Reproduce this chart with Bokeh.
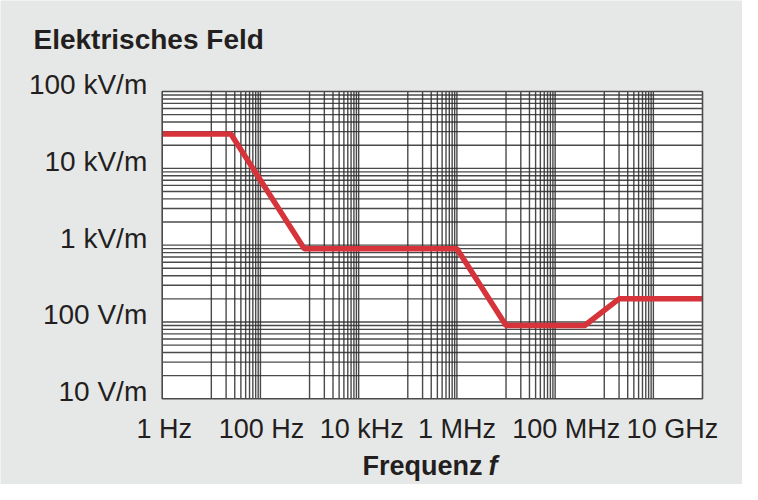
from bokeh.plotting import figure
from bokeh.models import Range1d
from bokeh.core.properties import value
from bokeh.embed import file_html
from bokeh.resources import INLINE
import math

# ---- data ----
freq_hz = [1, 25, 780, 1e6, 1e7, 4e8, 2e9, 1e11]
field_vm = [28000, 28000, 900, 900, 90, 90, 200, 200]

x_tick_values = [1, 1e2, 1e4, 1e6, 1e8, 1e10]
x_tick_labels = ["1 Hz", "100 Hz", "10 kHz", "1 MHz", "100 MHz", "10 GHz"]
y_tick_values = [10, 100, 1e3, 1e4, 1e5]
y_tick_labels = ["10 V/m", "100 V/m", "1 kV/m", "10 kV/m", "100 kV/m"]

title_text = "Elektrisches Feld"
x_title_text = "Frequenz"
x_title_symbol = "f"

# ---- layout / style ----
FONT = "Liberation Sans"
TXT = "#231f20"
BG = "#e6e7e7"
RED = "#d6333a"
GRID = "#2a2a2a"

W, H = 742, 484
# chart area in pixels (from top-left of figure)
X_LEFT_PX, X_RIGHT_PX = 161.7, 702.0
Y_TOP_PX, Y_BOT_PX = 91.0, 398.3
X_MIN, X_MAX = 1.0, 1e11
Y_MIN, Y_MAX = 10.0, 1e5

xdec = (X_RIGHT_PX - X_LEFT_PX) / (math.log10(X_MAX) - math.log10(X_MIN))
ydec = (Y_BOT_PX - Y_TOP_PX) / (math.log10(Y_MAX) - math.log10(Y_MIN))


def px_x(px):
    return 10 ** (math.log10(X_MIN) + (px - X_LEFT_PX) / xdec)


def px_y(py):
    return 10 ** (math.log10(Y_MIN) + (Y_BOT_PX - py) / ydec)


p = figure(width=W, height=H, x_axis_type="log", y_axis_type="log",
           x_range=Range1d(px_x(0), px_x(W)), y_range=Range1d(px_y(H), px_y(0)),
           output_backend="svg", toolbar_location=None,
           min_border=0, min_border_left=0, min_border_right=0,
           min_border_top=0, min_border_bottom=0)
p.xaxis.visible = False
p.yaxis.visible = False
p.xgrid.visible = False
p.ygrid.visible = False
p.outline_line_color = None
p.border_fill_color = BG
p.background_fill_color = BG

# white chart area
p.quad(left=[X_MIN], right=[X_MAX], bottom=[Y_MIN], top=[Y_MAX],
       fill_color="white", line_color=None)

# grid: each pair of decades -> first decade undivided, second decade subdivided 1..9
xg = []
for k in range(0, 11, 2):
    base = 10.0 ** k
    xg.append(base)
    for m in range(1, 10):
        xg.append(base * 10 * m)
xg = sorted(set(v for v in xg if X_MIN < v < X_MAX))
yg = []
for k in range(1, 5):
    for m in range(1, 10):
        yg.append(m * 10.0 ** k)
yg = sorted(set(v for v in yg if Y_MIN < v < Y_MAX))

p.segment(x0=xg, x1=xg, y0=[Y_MIN] * len(xg), y1=[Y_MAX] * len(xg),
          line_color=GRID, line_width=1.4, line_alpha=0.85)
p.segment(x0=[X_MIN] * len(yg), x1=[X_MAX] * len(yg), y0=yg, y1=yg,
          line_color=GRID, line_width=1.4, line_alpha=0.85)

p.line(freq_hz, field_vm, line_color=RED, line_width=5.5)

# chart border
p.quad(left=[X_MIN], right=[X_MAX], bottom=[Y_MIN], top=[Y_MAX],
       fill_alpha=0, line_color="#4a4a4a", line_width=1.6)

# y tick labels: right-aligned left of chart, centred 6 px above tick
ylab_x = [px_x(X_LEFT_PX - 15)] * len(y_tick_values)
ylab_y = [10 ** (math.log10(v) + 7 / ydec) for v in y_tick_values]
p.text(x=ylab_x, y=ylab_y, text=y_tick_labels, text_font=value(FONT),
       text_font_size=value("28px"), text_color=TXT, text_align="right",
       text_baseline="middle")

# x tick labels (last ones nudged right as in original)
nudges = [2, 1, 3, 0, 11, 19]
xlab_x = [10 ** (math.log10(v) + d / xdec) for v, d in zip(x_tick_values, nudges)]
xlab_y = [px_y(428)] * len(x_tick_values)
p.text(x=xlab_x, y=xlab_y, text=x_tick_labels, text_font=value(FONT),
       text_font_size=value("27px"), text_color=TXT, text_align="center",
       text_baseline="middle")

# axis title "Frequenz f"
p.text(x=[px_x(482)], y=[px_y(465)], text=[x_title_text], text_font=value(FONT),
       text_font_size=value("27px"), text_font_style="bold", text_color=TXT,
       text_align="right", text_baseline="middle")
p.text(x=[px_x(488)], y=[px_y(465)], text=[x_title_symbol], text_font=value(FONT),
       text_font_size=value("27px"), text_font_style="bold italic", text_color=TXT,
       text_align="left", text_baseline="middle")

# chart title
p.text(x=[px_x(33)], y=[px_y(39)], text=[title_text], text_font=value(FONT),
       text_font_size=value("28px"), text_font_style="bold", text_color=TXT,
       text_align="left", text_baseline="middle")

open("out.html", "w").write(file_html(p, INLINE))
